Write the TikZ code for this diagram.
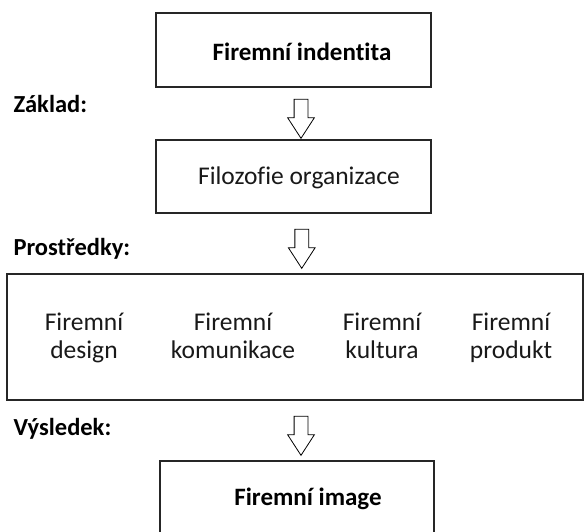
\documentclass[tikz,border=0pt]{standalone}
\usepackage{fontspec}
\setmainfont{Carlito}[Ligatures=NoCommon]
\usepackage{tikz}
\usetikzlibrary{calc,shapes.arrows}
\tikzset{
  every picture/.style={line join=miter},
  box/.style={draw=black!85, line width=1.5pt, fill=white, inner sep=0pt},
  boldtxt/.style={font=\bfseries\fontsize{25}{28}\selectfont, text=black},
  plaintxt/.style={font=\fontsize{25.5}{28}\selectfont, text=black!90, align=center, inner sep=0pt},
  steplbl/.style={font=\bfseries\fontsize{24.5}{28}\selectfont, text=black, anchor=base west},
  blockarr/.style={single arrow, draw=black, line width=0.8pt, fill=white,
    inner sep=0pt, inner ysep=6.5pt, minimum height=39pt,
    single arrow head extend=6.5pt, single arrow tip angle=66, rotate=-90},
}

\begin{document}
\begin{tikzpicture}[x=1pt, y={(0pt,-1pt)}]
\path[use as bounding box, clip] (0,0) rectangle (584,531);
% boxes
\node[box, minimum width=275pt, minimum height=74pt] (ident) at (293.5,50) {};
\node[box, minimum width=275pt, minimum height=73pt] (filo) at (293.5,176.5) {};
\node[box, minimum width=576pt, minimum height=126pt] (means) at (295,337) {};
\node[box, minimum width=274pt, minimum height=78pt] (image) at (297,500) {};
\node[boldtxt] (identtxt) at ([xshift=8.5pt,yshift=-2pt]ident.center) {Firemní indentita};
\node[plaintxt] (filotxt) at ([xshift=5.5pt,yshift=-1.5pt]filo.center) {Filozofie organizace};
\node[boldtxt] (imagetxt) at ([xshift=11pt,yshift=1pt]image.center) {Firemní image};
\foreach \x/\t [count=\k] in {84/design,233/komunikace,382/kultura,511/produkt}
  \node[plaintxt, anchor=north] (part\k) at (\x,313) {Firemní\\\t};
% left labels
\node[steplbl] (zaklad) at (10,112) {Základ:};
\node[steplbl] (prostr) at (10,255) {Prostředky:};
\node[steplbl] (vysl) at (10,435) {Výsledek:};
% arrows
\node[blockarr] (a1) at ($(ident.south)!0.5!(filo.north)+(7.5,0)$) {};
\node[blockarr] (a2) at ($(filo.south)!0.5!(means.north)+(7.5,0)$) {};
\node[blockarr] (a3) at ($(means.south)!0.5!(image.north)+(5,0)$) {};
\end{tikzpicture}
\end{document}
